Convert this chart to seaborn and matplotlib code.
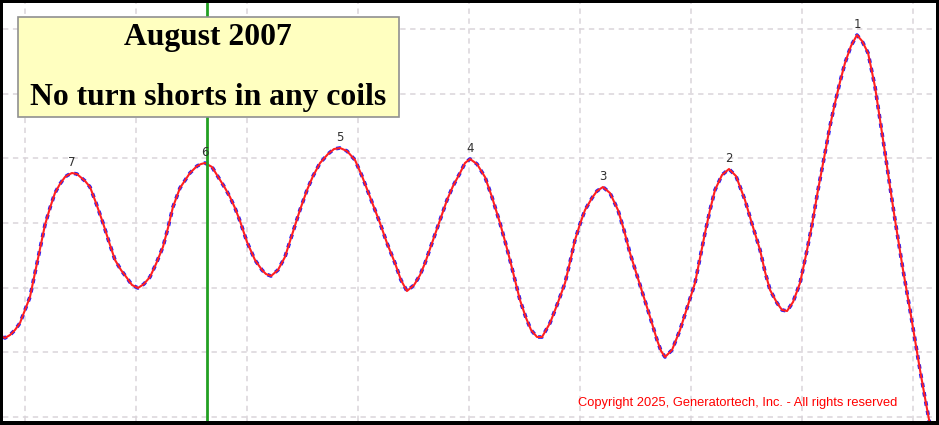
import numpy as np
import pandas as pd
import matplotlib
matplotlib.use("Agg")
from matplotlib import pyplot as plt
from matplotlib.patches import Rectangle
import seaborn as sns

sns.set_style("white")

# trace (grid units: one division = 1)
pos = [-0.198, -0.180, -0.135, -0.090, -0.045, 0.000, 0.045, 0.090, 0.135, 0.180,
       0.225, 0.270, 0.315, 0.360, 0.387, 0.423, 0.468, 0.541, 0.586, 0.640,
       0.703, 0.757, 0.811, 0.865, 0.919, 0.964, 1.018, 1.072, 1.126, 1.180,
       1.243, 1.288, 1.333, 1.396, 1.486, 1.550, 1.586, 1.622, 1.685, 1.757,
       1.802, 1.847, 1.892, 1.937, 2.000, 2.072, 2.135, 2.171, 2.216, 2.279,
       2.342, 2.405, 2.477, 2.541, 2.595, 2.658, 2.730, 2.784, 2.838, 2.901,
       2.973, 3.036, 3.108, 3.198, 3.261, 3.333, 3.387, 3.441, 3.505, 3.559,
       3.604, 3.667, 3.739, 3.802, 3.856, 3.919, 3.964, 4.009, 4.072, 4.144,
       4.207, 4.279, 4.324, 4.369, 4.414, 4.459, 4.514, 4.559, 4.613, 4.658,
       4.730, 4.793, 4.865, 4.910, 4.955, 5.000, 5.045, 5.108, 5.153, 5.207,
       5.270, 5.342, 5.396, 5.450, 5.541, 5.631, 5.694, 5.730, 5.766, 5.829,
       5.901, 5.964, 6.036, 6.081, 6.126, 6.171, 6.216, 6.279, 6.342, 6.405,
       6.486, 6.550, 6.622, 6.667, 6.712, 6.775, 6.820, 6.865, 6.919, 6.982,
       7.036, 7.090, 7.144, 7.207, 7.252, 7.297, 7.342, 7.387, 7.441, 7.495,
       7.541, 7.595, 7.658, 7.703, 7.748, 7.793, 7.838, 7.910, 7.973, 8.018,
       8.063, 8.108, 8.153]
flux = [1.236, 1.221, 1.267, 1.345, 1.453, 1.654, 1.855, 2.226, 2.597, 2.968,
        3.230, 3.462, 3.601, 3.709, 3.740, 3.771, 3.756, 3.648, 3.555, 3.308,
        2.998, 2.705, 2.427, 2.272, 2.148, 2.040, 1.994, 2.056, 2.164, 2.365,
        2.628, 2.921, 3.246, 3.539, 3.771, 3.879, 3.910, 3.926, 3.864, 3.663,
        3.539, 3.400, 3.230, 3.029, 2.705, 2.427, 2.272, 2.210, 2.179, 2.272,
        2.473, 2.813, 3.199, 3.509, 3.725, 3.926, 4.065, 4.142, 4.158, 4.111,
        3.972, 3.725, 3.400, 2.998, 2.689, 2.380, 2.117, 1.947, 2.040, 2.195,
        2.380, 2.689, 3.045, 3.354, 3.570, 3.771, 3.926, 3.988, 3.910, 3.709,
        3.400, 2.998, 2.720, 2.427, 2.117, 1.808, 1.530, 1.345, 1.236, 1.236,
        1.453, 1.731, 2.071, 2.396, 2.736, 2.983, 3.199, 3.385, 3.493, 3.555,
        3.462, 3.199, 2.890, 2.535, 2.040, 1.546, 1.190, 1.020, 0.927, 1.036,
        1.345, 1.685, 2.071, 2.457, 2.844, 3.199, 3.509, 3.740, 3.833, 3.725,
        3.354, 2.983, 2.581, 2.241, 1.963, 1.762, 1.654, 1.638, 1.777, 2.071,
        2.504, 2.968, 3.509, 4.080, 4.498, 4.853, 5.178, 5.471, 5.734, 5.904,
        5.811, 5.626, 5.100, 4.590, 4.080, 3.555, 3.045, 2.272, 1.654, 1.190,
        0.726, 0.294, -0.124]

# pole peaks and their numbers
peak_x = [0.423, 1.622, 2.838, 4.009, 5.207, 6.342, 7.495]
peak_y = [3.771, 3.926, 4.158, 3.988, 3.555, 3.833, 5.904]
peak_lbl = ["7", "6", "5", "4", "3", "2", "1"]

cursor_x = 1.640

df = pd.DataFrame({"pos": pos, "flux": flux})

fig = plt.figure(figsize=(9.39, 4.25), dpi=100, facecolor="black")
ax = fig.add_axes([3/939, 4/425, 933/939, 418/425])
ax.set_facecolor("white")

ax.set_xlim(-0.198, 8.207)
ax.set_ylim(-0.062, 6.399)
ax.set_xticks(range(0, 9))
ax.set_yticks(range(0, 7))
ax.grid(True, color="#dad4da", linestyle=(0, (3.5, 3)), linewidth=1.1)
ax.tick_params(length=0, labelbottom=False, labelleft=False)
for s in ax.spines.values():
    s.set_visible(False)

# reference trace (blue dotted) under the live trace (red)
sns.lineplot(data=df, x="pos", y="flux", ax=ax, color="#1a1aff", linewidth=2.6,
             linestyle=(0, (1.2, 1.4)), sort=False, estimator=None)
sns.lineplot(data=df, x="pos", y="flux", ax=ax, color="#ff2020", linewidth=1.5,
             sort=False, estimator=None)
ax.set_xlabel("")
ax.set_ylabel("")

ax.axvline(cursor_x, color="#22a022", linewidth=2)

for px, py, lb in zip(peak_x, peak_y, peak_lbl):
    ax.annotate(lb, (px, py), xytext=(0, 3), textcoords="offset points",
                ha="center", va="bottom", fontsize=8.5, color="#303030",
                family="DejaVu Sans")

ax.add_patch(Rectangle((0.0161, 0.727), 0.408, 0.2395, transform=ax.transAxes,
                       facecolor="#ffffc0", edgecolor="#909090", linewidth=1.2,
                       zorder=5))
ax.text(0.2197, 0.917, "August 2007", transform=ax.transAxes, ha="center",
        va="center", fontsize=22.8, fontweight="bold", family="Liberation Serif",
        color="black", zorder=6)
ax.text(0.2197, 0.775, "No turn shorts in any coils", transform=ax.transAxes,
        ha="center", va="center", fontsize=22.8, fontweight="bold",
        family="Liberation Serif", color="black", zorder=6)

ax.text((578-3)/933, (421-403)/418, "Copyright 2025, Generatortech, Inc. - All rights reserved",
        transform=ax.transAxes, ha="left", va="center", fontsize=9.3,
        color="#ff0000", family="Liberation Sans")

fig.savefig("out.png", dpi=100, facecolor="black")
